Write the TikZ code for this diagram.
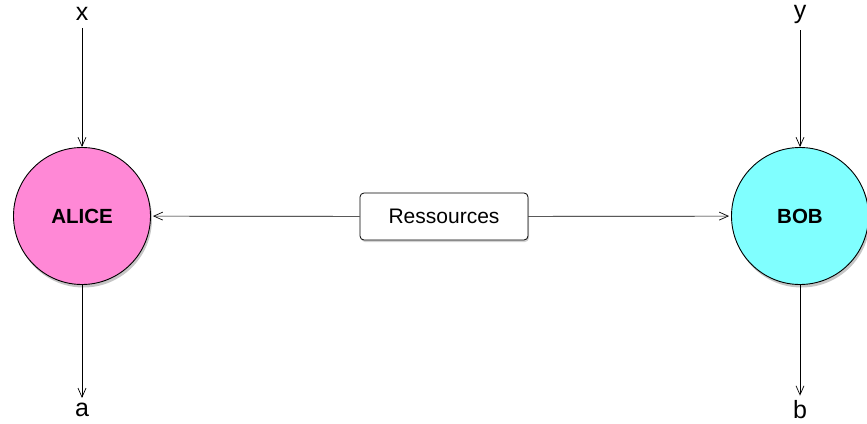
\documentclass[tikz,border=0pt]{standalone}
\usepackage{fontspec}
\setmainfont{Liberation Sans}
\usetikzlibrary{arrows.meta,shadows}

\begin{document}
\begin{tikzpicture}[x=1pt, y=-1pt, >={Straight Barb[length=9pt,width=8pt]}]
  % Define colors
  \definecolor{alicefill}{RGB}{255,136,214}
  \definecolor{bobfill}{RGB}{128,255,255}
  \tikzset{
    player/.style={circle, draw, line width=0.9pt, minimum size=137pt, inner sep=0pt,
      font=\fontsize{20.5}{24}\selectfont\bfseries,
      drop shadow={opacity=0.45, shadow xshift=1.5pt, shadow yshift=-3pt}},
    sourcebox/.style={draw, line width=0.8pt, rounded corners=4pt, fill=white,
      minimum width=168pt, minimum height=47pt, inner sep=0pt,
      font=\fontsize{21}{24}\selectfont,
      drop shadow={opacity=0.35, shadow xshift=1pt, shadow yshift=-2pt}},
    varlabel/.style={font=\fontsize{25}{28}\selectfont, inner sep=1pt},
    link/.style={->, line width=0.7pt}
  }
  \useasboundingbox (0,0) rectangle (867,423);

  % Players
  \node[player, fill=alicefill] (alice) at (82,216) {ALICE};
  \node[player, fill=bobfill] (bob) at (800,216) {BOB};

  % Shared resources
  \node[sourcebox] (res) at (444,216.5) {Ressources};

  % Inputs and outputs
  \node[varlabel] (xin) at (82,14) {x};
  \node[varlabel] (yin) at (800,14) {y};
  \node[varlabel] (aout) at (82,410) {a};
  \node[varlabel] (bout) at (800,410) {b};

  % Connections
  \draw[link, shorten <=6pt] (xin) -- (alice);
  \draw[link, shorten <=6pt] (yin) -- (bob);
  \draw[link, shorten >=4pt] (alice) -- (aout);
  \draw[link, shorten >=4pt] (bob) -- (bout);
  \draw[link, shorten >=2pt] (res) -- (alice);
  \draw[link, shorten >=2pt] (res) -- (bob);
\end{tikzpicture}
\end{document}
